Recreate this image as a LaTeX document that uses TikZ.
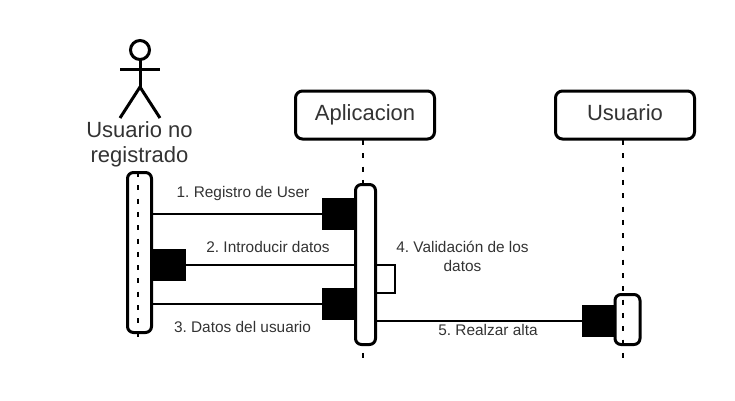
\documentclass[tikz,border=0pt]{standalone}
\usepackage{fontspec}
\setmainfont{Liberation Sans}
\definecolor{ink}{HTML}{333333}
\tikzset{
  x=1pt,y=-1pt,
  every node/.style={inner sep=0pt,outer sep=0pt},
  thing/.style={draw=black,line width=3pt,fill=white,rounded corners=7pt,minimum width=139pt,minimum height=48pt,font=\fontsize{22pt}{25pt}\selectfont\frenchspacing,text=ink,text height=16pt,text depth=5pt},
  actbar/.style={draw=black,line width=3pt,rounded corners=6pt,fill=white,anchor=north west},
  lifeline/.style={draw=black,line width=2pt,dash pattern=on 5pt off 8.3pt},
  msg/.style={draw=black,line width=2pt},
  blob/.style={fill=black,minimum width=33pt,minimum height=32pt},
  lab/.style={font=\fontsize{15.4pt}{19pt}\selectfont\frenchspacing,text=ink,align=center,anchor=base},
  limb/.style={draw=black,line width=3pt},
}
\begin{document}
\begin{tikzpicture}
\useasboundingbox (0,0) rectangle (735,400);
% actor
\node[circle,draw=black,line width=3pt,minimum size=19pt] (head) at (140,50) {};
\coordinate (hip) at (140,87);
\coordinate (armL) at (120,69);
\coordinate (armR) at (160,69);
\coordinate (footL) at (120,118);
\coordinate (footR) at (160,118);
\draw[limb] (head.south) -- (hip);
\draw[limb] (armL) -- (armR);
\draw[limb] (footL) -- (hip) -- (footR);
\node[lab,font=\fontsize{22pt}{25pt}\selectfont\frenchspacing] (actorname) at (139.5,162.5) {Usuario no\\registrado};
% headers
\node[thing] (app) at (365,115) {Aplicacion};
\node[thing] (usr) at (625,115) {Usuario};
% lifeline ends
\coordinate (topA) at (138,172);
\coordinate (endA) at (138,344);
\coordinate (topB) at (363,140);
\coordinate (endB) at (363,358);
\coordinate (topC) at (623,140);
\coordinate (endC) at (623,358);
\draw[lifeline] (topB) -- (endB);
% activation bars
\node[actbar,minimum width=24pt,minimum height=160pt] (barA) at (127.5,172.5) {};
\node[actbar,minimum width=20pt,minimum height=160pt] (barB) at (355.5,184.5) {};
\node[actbar,minimum width=25pt,minimum height=50pt] (barC) at (615,294.5) {};
\draw[lifeline] (topA) -- (endA);
\draw[lifeline] (topC) -- (endC);
% arrow blocks
\node[blob,anchor=north west] (b1) at (322,198) {};
\node[blob,anchor=north west] (b2) at (153,249) {};
\node[blob,anchor=north west] (b3) at (322,288) {};
\node[blob,anchor=north west] (b4) at (582,305) {};
% connectors
\draw[msg] (b1.west) -- (b1.west -| barA.east);
\draw[msg] (b2.east) -- (b2.east -| barB.west);
\draw[msg] (b3.west) -- (b3.west -| barA.east);
\draw[msg] (b4.west) -- (b4.west -| barB.east);
\coordinate (loopT) at (395,265);
\coordinate (loopB) at (395,293);
\draw[msg] (loopT -| barB.east) -- (loopT) -- (loopB) -- (loopB -| barB.east);
% labels
\node[lab] (l1) at (243,197.5) {1. Registro de User};
\node[lab] (l2) at (268,252.5) {2. Introducir datos};
\node[lab] (l3) at (242.5,332.5) {3. Datos del usuario};
\node[lab] (l4) at (462.5,271.5) {4. Validación de los\\datos};
\node[lab] (l5) at (488,335.5) {5. Realzar alta};
\end{tikzpicture}
\end{document}
